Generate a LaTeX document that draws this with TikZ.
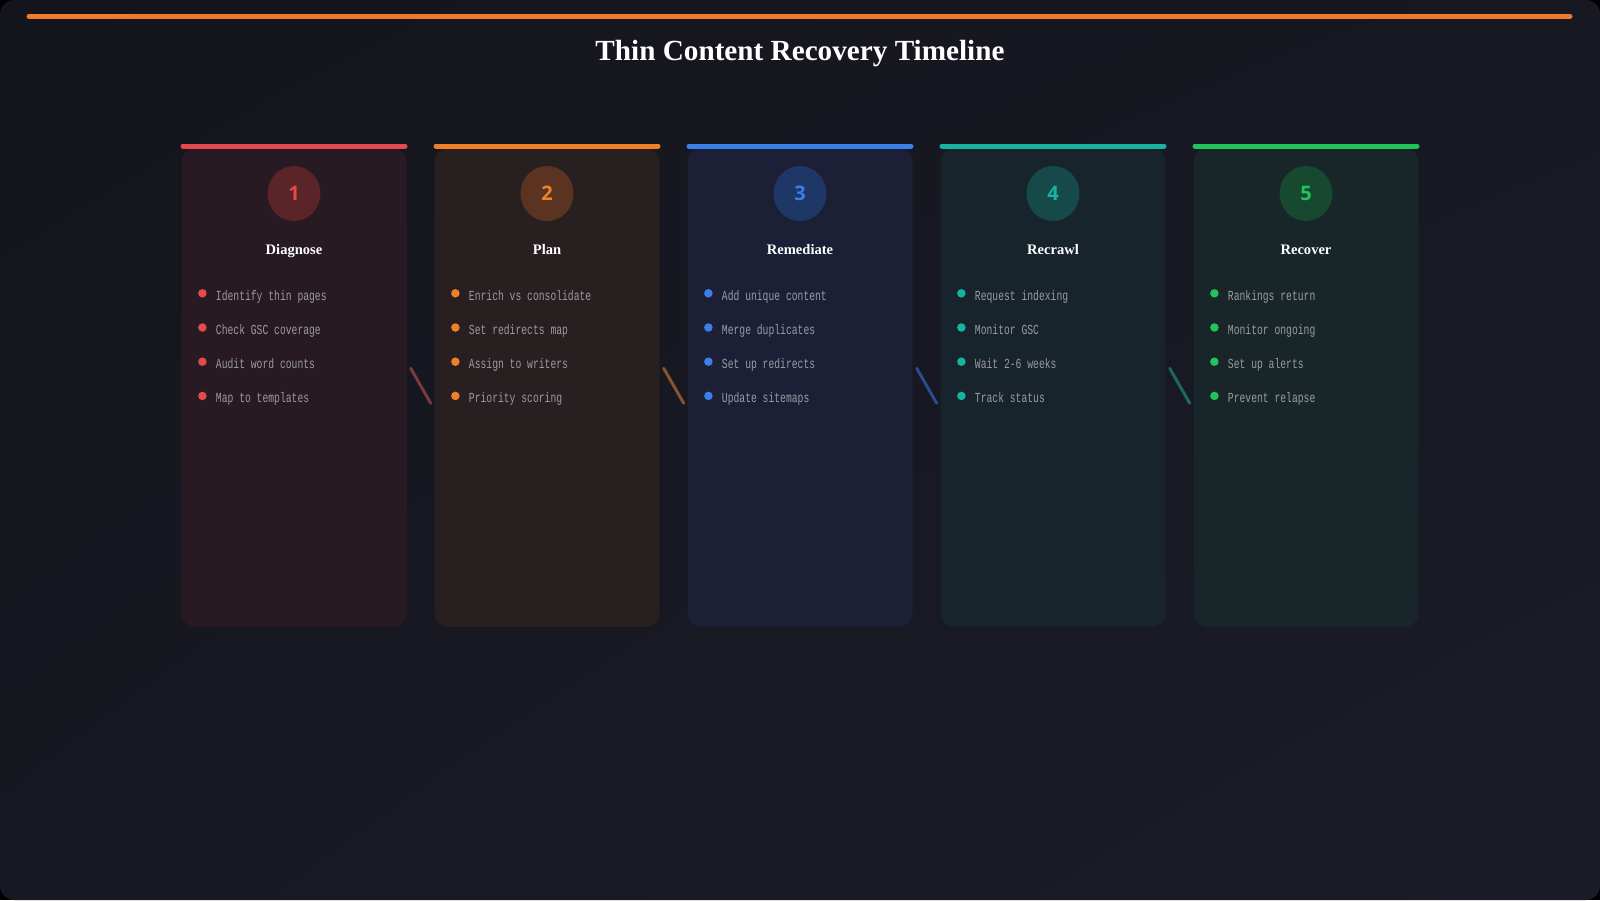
\documentclass[tikz,border=0pt]{standalone}
\usepackage{fontspec}
\setmainfont{Liberation Serif}
\newfontfamily\numfont{Open Sans}
\newfontfamily\itemfont[FakeStretch=0.70]{Liberation Mono}
\usetikzlibrary{shapes.geometric,shadings}
\definecolor{bgA}{HTML}{14151C}
\definecolor{bgB}{HTML}{1C1C29}
\definecolor{topline}{HTML}{EE7B2C}
\definecolor{itemgray}{HTML}{9A9BA3}
\definecolor{acc1}{HTML}{E5484D}
\definecolor{acc2}{HTML}{F07F2A}
\definecolor{acc3}{HTML}{3B7FE8}
\definecolor{acc4}{HTML}{16B3A0}
\definecolor{acc5}{HTML}{22C25C}
\definecolor{card1}{HTML}{281A22}
\definecolor{card2}{HTML}{281F21}
\definecolor{card3}{HTML}{1B2037}
\definecolor{card4}{HTML}{18242C}
\definecolor{card5}{HTML}{18262A}
\definecolor{circ1}{HTML}{5A2429}
\definecolor{circ2}{HTML}{5A3421}
\definecolor{circ3}{HTML}{1F3766}
\definecolor{circ4}{HTML}{15494A}
\definecolor{circ5}{HTML}{174830}
\definecolor{link1}{HTML}{7D3A3E}
\definecolor{link2}{HTML}{8A5430}
\definecolor{link3}{HTML}{2D4C8E}
\definecolor{link4}{HTML}{1C6962}
\tikzset{
  cardbox/.style={draw=none, rounded corners=10.5pt, minimum width=168.75pt, minimum height=359.25pt, inner sep=0pt},
  topbar/.style={line width=3.75pt, line cap=round},
  numcirc/.style={ellipse, minimum width=39.75pt, minimum height=41.25pt, inner sep=0pt, font=\numfont\bfseries\fontsize{15}{18}\selectfont},
  steptitle/.style={anchor=base, text=white, font=\bfseries\fontsize{10.9}{13}\selectfont, inner sep=0pt},
  itemtext/.style={anchor=base west, inner sep=0pt, text=itemgray, font=\itemfont\fontsize{10.4}{12}\selectfont},
  itemdot/.style={circle, minimum size=6.4pt, inner sep=0pt},
  linkline/.style={line width=2.2pt, line cap=round},
}
\begin{document}
\begin{tikzpicture}[x=0.75pt,y=-0.75pt]
\useasboundingbox (0,0) rectangle (1600,900);
\fill[black] (0,0) rectangle (1600,900);
\shade[upper left=bgA, lower left=bgA!60!bgB, upper right=bgA!60!bgB, lower right=bgB, rounded corners=10.5pt] (0,0) rectangle (1600,900);
\coordinate (tl) at (29,16.3);
\coordinate (tr) at (1570,16.3);
\draw[topline, line width=3.75pt, line cap=round] (tl) -- (tr);
\node[anchor=base, text=white, font=\bfseries\fontsize{21.9}{26}\selectfont, inner sep=0pt] (title) at (800,60) {Thin Content Recovery Timeline};

\foreach \i/\nm/\a/\b/\c/\d in {
  1/Diagnose/Identify thin pages/Check GSC coverage/Audit word counts/Map to templates,
  2/Plan/Enrich vs consolidate/Set redirects map/Assign to writers/Priority scoring,
  3/Remediate/Add unique content/Merge duplicates/Set up redirects/Update sitemaps,
  4/Recrawl/Request indexing/Monitor GSC/Wait 2-6 weeks/Track status,
  5/Recover/Rankings return/Monitor ongoing/Set up alerts/Prevent relapse}{
  \pgfmathsetmacro{\cx}{800+(\i-3)*253}
  \node[cardbox, fill=card\i] (c\i) at (\cx,387.5) {};
  \coordinate (bl\i) at (\cx-111,146);
  \coordinate (br\i) at (\cx+111,146);
  \draw[topbar, acc\i] (bl\i) -- (br\i);
  \node[numcirc, fill=circ\i, text=acc\i] (n\i) at (\cx,193.5) {\i};
  \node[steptitle] (t\i) at (\cx,254.5) {\nm};
  \foreach \k/\txt in {0/\a,1/\b,2/\c,3/\d}{
    \node[itemdot, fill=acc\i] (d\i-\k) at (\cx-91.6,293.3+\k*34.2) {};
    \node[itemtext] (s\i-\k) at (\cx-78.3,300+\k*34.2) {\txt};
  }
}
\foreach \i in {1,2,3,4}{
  \pgfmathsetmacro{\cx}{800+(\i-3)*253}
  \coordinate (ka\i) at (\cx+116.7,368.3);
  \coordinate (kb\i) at (\cx+136.7,403.3);
  \draw[linkline, link\i] (ka\i) -- (kb\i);
}
\end{tikzpicture}
\end{document}
